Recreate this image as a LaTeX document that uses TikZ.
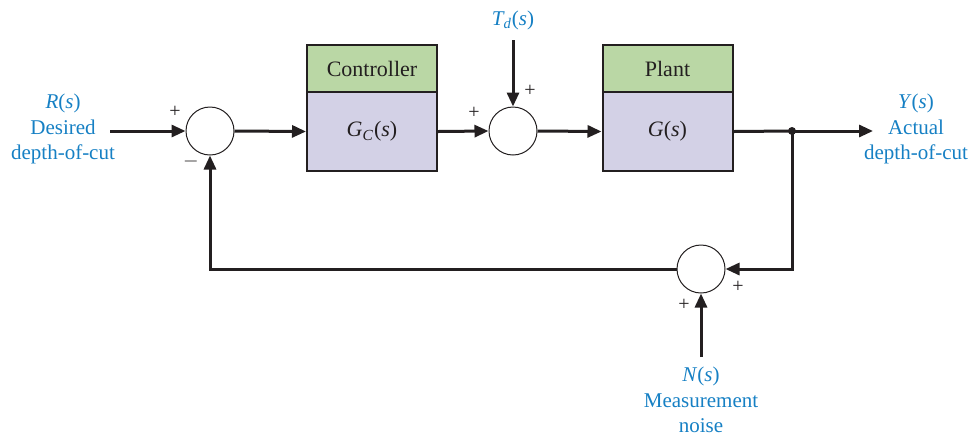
\documentclass[tikz,border=0pt]{standalone}
\usepackage{fontspec}
\setmainfont{Liberation Serif}
\usetikzlibrary{arrows.meta}
\definecolor{lblue}{RGB}{22,128,196}
\definecolor{boxgreen}{RGB}{186,215,165}
\definecolor{boxlav}{RGB}{211,209,230}
\definecolor{ink}{RGB}{35,31,32}
\begin{document}
\begin{tikzpicture}[x=0.5pt,y=-0.5pt,
  sig/.style={line width=1.5pt,draw=ink,-{Triangle[length=7pt,width=6pt]}},
  wire/.style={line width=1.5pt,draw=ink},
  sumnode/.style={circle,draw=ink,line width=0.5pt,minimum size=24pt,inner sep=0pt,fill=white},
  greenbox/.style={draw=ink,line width=1pt,fill=boxgreen,minimum width=65pt,minimum height=23.5pt,inner sep=0pt,text=ink,font=\fontsize{11}{13}\selectfont},
  lavbox/.style={draw=ink,line width=1pt,fill=boxlav,minimum width=65pt,minimum height=39.5pt,inner sep=0pt,text=ink,font=\fontsize{11}{13}\selectfont},
  lbl/.style={text=lblue,align=center,font=\fontsize{10.5}{12.7}\selectfont,inner sep=0pt},
  sgn/.style={text=ink,font=\fontsize{10}{12}\selectfont,inner sep=0pt}]
\useasboundingbox (0,0) rectangle (973,436);
% summing junctions
\node[sumnode] (s1) at (210,131) {};
\node[sumnode] (s2) at (513,131) {};
\node[sumnode] (s3) at (701,269) {};
% blocks
\node[greenbox] (cg) at (372,68.5) {Controller};
\node[lavbox] (cl) at (372,131.5) {\textit{G}\textsubscript{\textit{C}}(\textit{s})};
\node[greenbox] (pg) at (667.5,68.5) {Plant};
\node[lavbox] (pl) at (667.5,131.5) {\textit{G}(\textit{s})};
% coordinates
\coordinate (in) at (110,131);
\coordinate (td) at (513,40);
\coordinate (j) at (792,131);
\coordinate (out) at (873,131);
\coordinate (ns) at (701,357);
% labels
\node[lbl] (rl) at (63,129) {\textit{R}(\textit{s})\\Desired\\depth-of-cut};
\node[lbl] (yl) at (916,129) {\textit{Y}(\textit{s})\\Actual\\depth-of-cut};
\node[lbl] (tl) at (513,20) {\textit{T\textsubscript{d}}(\textit{s})};
\node[lbl] (nl) at (701,400) {\textit{N}(\textit{s})\\Measurement\\noise};
% signs
\node[sgn] at (175,112) {+};
\node[sgn] at (191,161) {$-$};
\node[sgn] at (474,113) {+};
\node[sgn] at (530,91) {+};
\node[sgn] at (738,287) {+};
\node[sgn] at (684,305) {+};
% connectors
\draw[sig] (in) -- (s1.west);
\draw[sig] (s1.east) -- (cl.west);
\draw[sig] (cl.east) -- (s2.west);
\draw[sig] (td) -- (s2.north);
\draw[sig] (s2.east) -- (pl.west);
\draw[wire] (pl.east) -- (j);
\draw[sig] (j) -- (out);
\fill[ink] (j) circle[radius=4];
\draw[sig] (j) |- (s3.east);
\draw[sig] (s3.west) -| (s1.south);
\draw[sig] (ns) -- (s3.south);
\end{tikzpicture}
\end{document}
